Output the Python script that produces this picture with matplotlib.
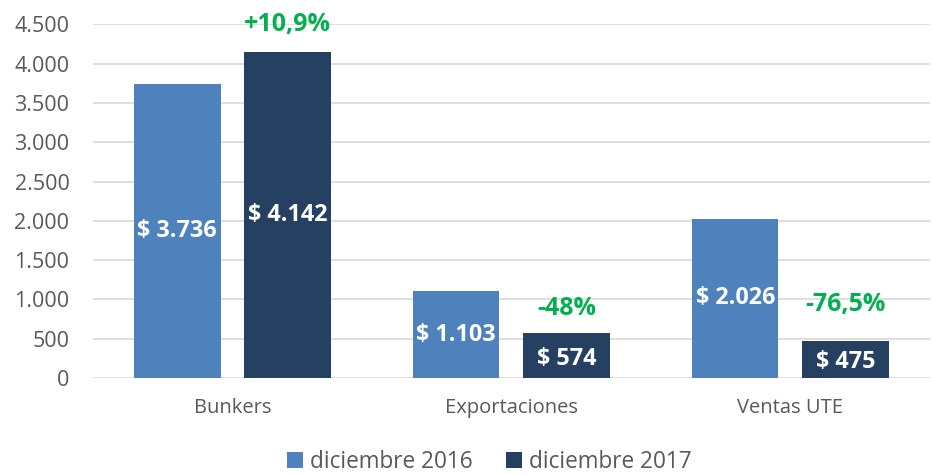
import matplotlib

matplotlib.use("Agg")
import matplotlib.pyplot as plt
import numpy as np
from matplotlib.ticker import FuncFormatter, MultipleLocator
from matplotlib.patches import Patch

categories = ["Bunkers", "Exportaciones", "Ventas UTE"]
series_names = ["diciembre 2016", "diciembre 2017"]
values_2016 = [3736, 1103, 2026]
values_2017 = [4142, 574, 475]
changes = ["+10,9%", "-48%", "-76,5%"]
change_y = [4500, 890, 930]

LIGHT = "#4F81BD"
DARK = "#264062"
GREEN = "#00B050"
GREY = "#595959"

plt.rcParams["font.family"] = ["Open Sans", "DejaVu Sans"]

fig = plt.figure(figsize=(9.32, 4.75), dpi=100)
ax = fig.add_axes([0.0998, 0.204, 0.898, 0.745])

x = np.arange(len(categories))
width = 0.31
offset = 0.198

bars_a = ax.bar(x - offset, values_2016, width, color=LIGHT, zorder=3)
bars_b = ax.bar(x + offset, values_2017, width, color=DARK, zorder=3)


def money(v):
    return "$ " + f"{v:,}".replace(",", ".")


for bars, vals in ((bars_a, values_2016), (bars_b, values_2017)):
    for bar, v in zip(bars, vals):
        ax.text(bar.get_x() + bar.get_width() / 2, v / 2 if v > 1000 else v * 0.42,
                money(v), ha="center", va="center", color="white",
                fontsize=16.8, fontweight="bold", zorder=4)

for xi, label, yv in zip(x, changes, change_y):
    ax.text(xi + offset, yv, label, ha="center", va="center", color=GREEN,
            fontsize=18, fontweight="bold", zorder=4)

ax.set_xlim(-0.5, len(categories) - 0.5)
ax.set_ylim(0, 4500)
ax.yaxis.set_major_locator(MultipleLocator(500))
ax.yaxis.set_major_formatter(FuncFormatter(lambda v, _p: f"{v:,.0f}".replace(",", ".")))
ax.grid(axis="y", color="#D9D9D9", linewidth=1.2, zorder=0)
ax.set_axisbelow(True)
for side in ("top", "right", "left", "bottom"):
    ax.spines[side].set_visible(False)
ax.tick_params(axis="y", length=0, pad=17, labelsize=15.5, labelcolor=GREY)
ax.tick_params(axis="x", length=0, pad=14, labelsize=14.5, labelcolor=GREY)
ax.set_xticks(x)
ax.set_xticklabels(categories)

handles = [Patch(facecolor=LIGHT), Patch(facecolor=DARK)]
fig.legend(handles, series_names, loc="center", bbox_to_anchor=(0.525, 0.027),
           ncol=2, frameon=False, fontsize=16.3, labelcolor=GREY,
           handlelength=0.7, handleheight=0.7, handletextpad=0.3, columnspacing=1.5)

fig.savefig("out.png", dpi=100)
